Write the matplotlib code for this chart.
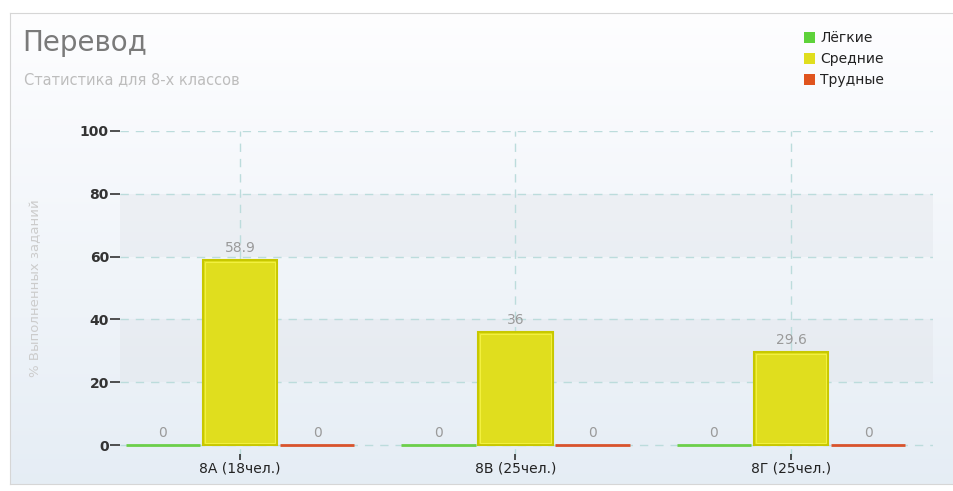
import numpy as np
import matplotlib.pyplot as plt
from matplotlib.patches import Rectangle

# data
classes = ['8А (18чел.)', '8В (25чел.)', '8Г (25чел.)']
series = ['Лёгкие', 'Средние', 'Трудные']
easy = [0, 0, 0]
medium = [58.9, 36, 29.6]
hard = [0, 0, 0]
yticks = [0, 20, 40, 60, 80, 100]

fills = ['#5ed23a', '#e0de1e', '#e0541e']
edges = ['#6ccf4a', '#c8c800', '#d9532c']

W, H = 954, 491
fig = plt.figure(figsize=(W / 100, H / 100), dpi=100)
fig.patch.set_facecolor('white')

# panel background with a soft vertical gradient
bg = fig.add_axes([10 / W, 1 - 484 / H, 944 / W, (484 - 13) / H])
grad = np.linspace(0, 1, 256).reshape(256, 1, 1)
top = np.array([0.995, 0.995, 1.0])
bot = np.array([0.90, 0.93, 0.96])
img = (top + (bot - top) * grad) * np.ones((1, 2, 1))
bg.imshow(img, aspect='auto', extent=[0, 1, 0, 1])
bg.set_xticks([])
bg.set_yticks([])
for s in bg.spines.values():
    s.set_color('#d6d6d6')
bg.set_zorder(0)

ax = fig.add_axes([120 / W, 1 - 457 / H, (933 - 120) / W, (457 - 131) / H])
ax.set_facecolor('none')
ax.set_zorder(1)

# alternating bands
for lo, hi in [(20, 40), (60, 80)]:
    ax.axhspan(lo, hi, xmin=0, color='#dfe2e8', alpha=0.35, lw=0, zorder=0)

x = np.arange(len(classes))
bw = 0.28
for k, vals in enumerate([easy, medium, hard]):
    xs = x + (k - 1) * bw
    for xi, v in zip(xs, vals):
        if v > 0:
            ax.add_patch(Rectangle((xi - bw / 2 + 0.005, 0), bw - 0.01, v,
                                   facecolor=fills[k], edgecolor=edges[k], lw=1.5, zorder=3))
            ax.add_patch(Rectangle((xi - bw / 2 + 0.012, 0.6), bw - 0.024, v - 1.2,
                                   facecolor='none', edgecolor='#f2f040', lw=0.8, zorder=4))
        else:
            ax.plot([xi - bw / 2 + 0.005, xi + bw / 2 - 0.005], [0, 0],
                    color=edges[k], lw=2, solid_capstyle='butt', zorder=3)
        lbl = ('%g' % v)
        ax.text(xi, v + 1.5, lbl, ha='center', va='bottom', color='#9a9a9a', fontsize=10)

ax.set_xlim(-0.435, 2.515)
ax.set_ylim(-3.8, 100)
ax.set_yticks(yticks)
ax.set_yticklabels([str(t) for t in yticks], fontweight='bold', color='#333333', fontsize=10)
ax.set_xticks(x)
ax.set_xticklabels(classes, color='#222222', fontsize=10)
ax.tick_params(axis='y', length=7, width=1.2, color='#333333', pad=1, direction='out')
ax.tick_params(axis='x', length=5, width=1.2, color='#333333', pad=1, direction='inout')
ax.grid(True, color='#bcdcdc', linestyle=(0, (6, 5)), lw=1.0, zorder=1)
for s in ax.spines.values():
    s.set_visible(False)

fig.text(22 / W, 1 - 43 / H, 'Перевод', fontsize=20, color='#7a7a7a', va='center')
fig.text(24 / W, 1 - 80 / H, 'Статистика для 8-х классов', fontsize=10.5,
         color='#bdbdbd', va='center')
fig.text(36 / W, 1 - 288 / H, '% Выполненных заданий', fontsize=9.5, color='#cccccc',
         rotation=90, ha='center', va='center')

for i, (name, c) in enumerate(zip(series, fills)):
    yy = 38 + i * 21
    fig.patches.append(Rectangle((804 / W, 1 - (yy + 5) / H), 11 / W, 11 / H,
                                 facecolor=c, edgecolor='none', transform=fig.transFigure))
    fig.text(820 / W, 1 - yy / H, name, fontsize=10,
             color='#222222', va='center')

fig.savefig('out.png', dpi=100)
